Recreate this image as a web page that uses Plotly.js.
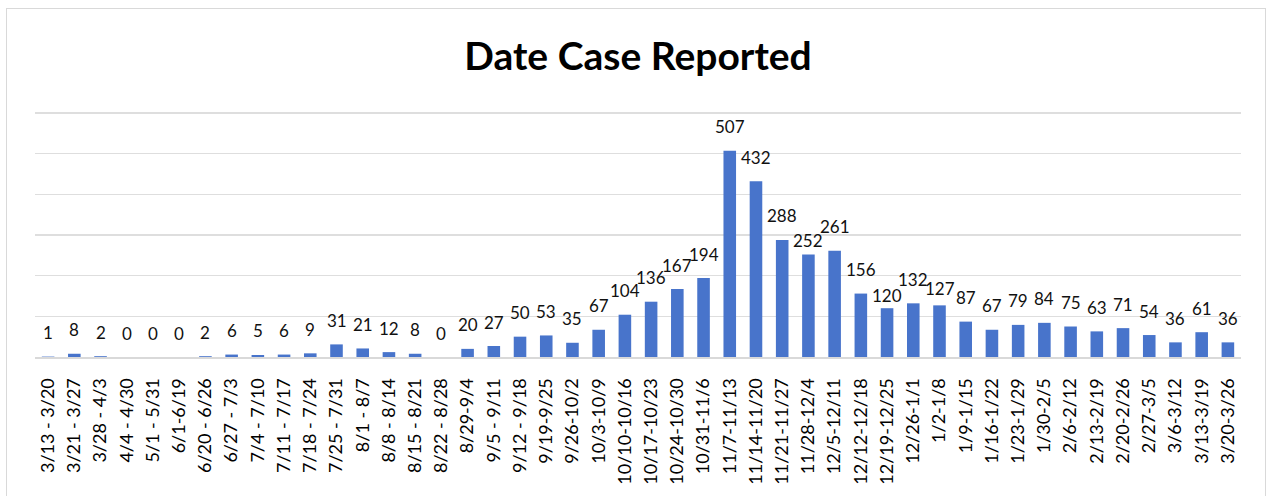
<!DOCTYPE html>
<html>
<head>
<meta charset="utf-8">
<script src="https://cdn.plot.ly/plotly-3.0.1.min.js"></script>
<style>
  html, body { margin: 0; padding: 0; background: #fff; }
  #chart { position: absolute; left: 0; top: 0; width: 1270px; height: 496px; }
  #frame { position: absolute; left: 6px; top: 8px; width: 1258px; height: 500px;
           border: 1px solid #d9d9d9; pointer-events: none; }
</style>
</head>
<body>
<div id="chart"></div>
<div id="frame"></div>
<script>
const chartTitle = "Date Case Reported";

const weeks = [
  "3/13 - 3/20", "3/21 - 3/27", "3/28 - 4/3", "4/4 - 4/30", "5/1 - 5/31",
  "6/1-6/19", "6/20 - 6/26", "6/27 - 7/3", "7/4 - 7/10", "7/11 - 7/17",
  "7/18 - 7/24", "7/25 - 7/31", "8/1 - 8/7", "8/8 - 8/14", "8/15 - 8/21",
  "8/22 - 8/28", "8/29-9/4", "9/5 - 9/11", "9/12 - 9/18", "9/19-9/25",
  "9/26-10/2", "10/3-10/9", "10/10-10/16", "10/17-10/23", "10/24-10/30",
  "10/31-11/6", "11/7-11/13", "11/14-11/20", "11/21-11/27", "11/28-12/4",
  "12/5-12/11", "12/12-12/18", "12/19-12/25", "12/26-1/1", "1/2-1/8",
  "1/9-1/15", "1/16-1/22", "1/23-1/29", "1/30-2/5", "2/6-2/12",
  "2/13-2/19", "2/20-2/26", "2/27-3/5", "3/6-3/12", "3/13-3/19",
  "3/20-3/26"
];

const cases = [
  1, 8, 2, 0, 0,
  0, 2, 6, 5, 6,
  9, 31, 21, 12, 8,
  0, 20, 27, 50, 53,
  35, 67, 104, 136, 167,
  194, 507, 432, 288, 252,
  261, 156, 120, 132, 127,
  87, 67, 79, 84, 75,
  63, 71, 54, 36, 61,
  36
];

// manual downward nudges (pixels) of a few data labels, as in the original
const labelDrop = {
  "11/28-12/4": 10,
  "12/19-12/25": 11,
  "1/2-1/8": 7
};

const FONT = "Lato, 'Open Sans', sans-serif";

const trace = {
  type: "bar",
  x: weeks,
  y: cases,
  marker: { color: "#4874CB" },
  hoverinfo: "x+y"
};

const annotations = weeks.map((w, i) => ({
  x: w, y: cases[i], xref: "x", yref: "y",
  text: String(cases[i]),
  showarrow: false,
  xanchor: "center", yanchor: "middle",
  yshift: 24 - (labelDrop[w] || 0),
  font: { family: FONT, size: 17, color: "#111" }
}));

const layout = {
  width: 1270, height: 496,
  margin: { l: 35, r: 29, t: 111, b: 139, pad: 0 },
  paper_bgcolor: "#fff",
  plot_bgcolor: "#fff",
  showlegend: false,
  bargap: 0.52,
  title: {
    text: chartTitle,
    font: { family: FONT, size: 39, color: "#000", weight: 700 },
    x: 0.5, xanchor: "center", xref: "paper",
    y: 1 - 56 / 496, yanchor: "middle", yref: "container"
  },
  xaxis: {
    type: "category",
    tickangle: -90,
    ticks: "",
    ticklabelstandoff: 12,
    tickfont: { family: FONT, size: 18, color: "#000" },
    showline: true, linecolor: "#d9d9d9", linewidth: 2,
    showgrid: false, automargin: false
  },
  yaxis: {
    range: [0, 605],
    tickvals: [100, 200, 300, 400, 500, 600],
    showticklabels: false,
    ticks: "",
    showgrid: true, gridcolor: "#dedede", gridwidth: 1.5,
    zeroline: false, showline: false, automargin: false
  },
  annotations: annotations
};

Plotly.newPlot("chart", [trace], layout, { displayModeBar: false, staticPlot: true });
</script>
</body>
</html>
